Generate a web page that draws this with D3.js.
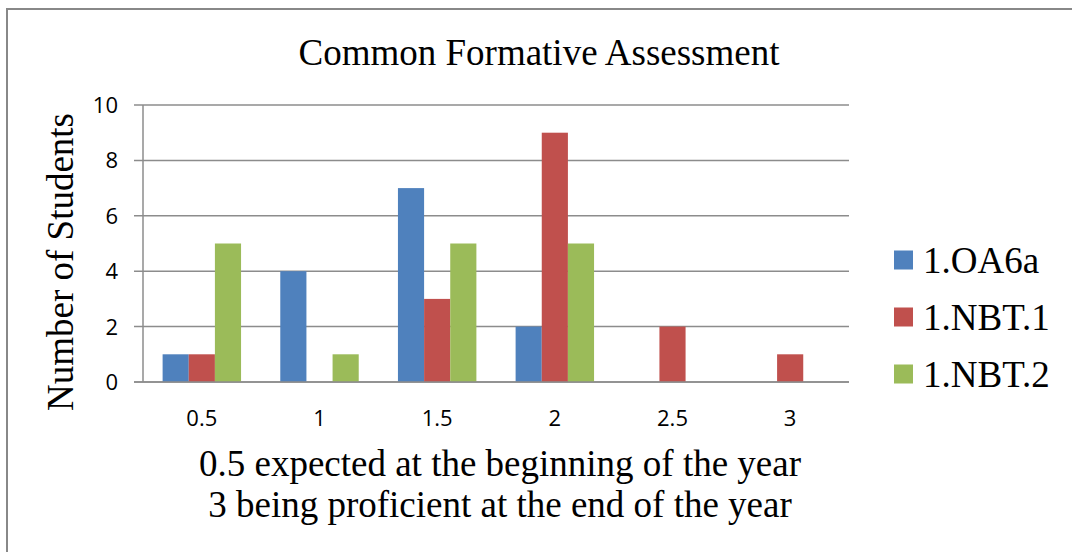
<!DOCTYPE html>
<html>
<head>
<meta charset="utf-8">
<script src="https://cdn.jsdelivr.net/npm/d3@7"></script>
<style>
  body { margin: 0; background: #fff; }
</style>
</head>
<body>
<svg id="chart" width="1072" height="552"></svg>
<script>
// data
var categories = ["0.5", "1", "1.5", "2", "2.5", "3"];
var seriesNames = ["1.OA6a", "1.NBT.1", "1.NBT.2"];
var oa6a = [1, 4, 7, 2, 0, 0];
var nbt1 = [1, 0, 3, 9, 2, 1];
var nbt2 = [5, 1, 5, 5, 0, 0];
var yTicks = [0, 2, 4, 6, 8, 10];
var colors = ["#4F81BD", "#C0504D", "#9BBB59"];

var seriesValues = [oa6a, nbt1, nbt2];

var svg = d3.select("#chart");
var serif = "'Liberation Serif', 'Times New Roman', serif";
var sans = "'Open Sans', 'Liberation Sans', sans-serif";

// outer frame (only top + left visible in picture)
svg.append("path")
  .attr("d", "M7,552 L7,9 L1072,9")
  .attr("fill", "none")
  .attr("stroke", "#888")
  .attr("stroke-width", 2);

var plot = { left: 143, right: 849, top: 105, bottom: 382 };

var x0 = d3.scaleBand()
  .domain(categories)
  .range([plot.left, plot.right]);

// gap width 150% -> bar = band / 4.5
var barW = x0.bandwidth() / 4.5;
var x1 = d3.scaleBand()
  .domain(seriesNames)
  .range([0, barW * 3]);

var y = d3.scaleLinear()
  .domain([0, 10])
  .range([plot.bottom, plot.top]);

// gridlines
svg.append("g")
  .selectAll("line")
  .data(yTicks)
  .join("line")
  .attr("x1", plot.left - 9)
  .attr("x2", plot.right)
  .attr("y1", d => y(d))
  .attr("y2", d => y(d))
  .attr("stroke", "#8c8c8c")
  .attr("stroke-width", 1.5);

// y axis line
svg.append("line")
  .attr("x1", plot.left).attr("x2", plot.left)
  .attr("y1", plot.top).attr("y2", plot.bottom)
  .attr("stroke", "#8c8c8c")
  .attr("stroke-width", 1.5);

// y tick labels
svg.append("g")
  .selectAll("text")
  .data(yTicks)
  .join("text")
  .attr("x", plot.left - 25)
  .attr("y", d => y(d))
  .attr("dy", "0.36em")
  .attr("text-anchor", "end")
  .attr("font-family", sans)
  .attr("font-size", 22)
  .text(d => d);

// bars
var groups = svg.append("g")
  .selectAll("g")
  .data(categories)
  .join("g")
  .attr("transform", d => "translate(" + (x0(d) + (x0.bandwidth() - barW * 3) / 2) + ",0)");

groups.selectAll("rect")
  .data((d, i) => seriesNames.map((s, k) => ({ s: s, k: k, v: seriesValues[k][i] })))
  .join("rect")
  .attr("x", d => x1(d.s))
  .attr("width", x1.bandwidth())
  .attr("y", d => y(d.v))
  .attr("height", d => y(0) - y(d.v))
  .attr("fill", d => colors[d.k]);

// redraw baseline on top of bars
svg.append("line")
  .attr("x1", plot.left - 9).attr("x2", plot.right)
  .attr("y1", plot.bottom).attr("y2", plot.bottom)
  .attr("stroke", "#8c8c8c")
  .attr("stroke-width", 1.5);

// x tick labels
svg.append("g")
  .selectAll("text")
  .data(categories)
  .join("text")
  .attr("x", d => x0(d) + x0.bandwidth() / 2)
  .attr("y", 418)
  .attr("dy", "0.36em")
  .attr("text-anchor", "middle")
  .attr("font-family", sans)
  .attr("font-size", 22)
  .text(d => d);

// title
svg.append("text")
  .attr("x", 539)
  .attr("y", 65)
  .attr("text-anchor", "middle")
  .attr("font-family", serif)
  .attr("font-size", 37)
  .text("Common Formative Assessment");

// y axis title
svg.append("text")
  .attr("transform", "translate(73,262) rotate(-90)")
  .attr("text-anchor", "middle")
  .attr("font-family", serif)
  .attr("font-size", 37)
  .text("Number of Students");

// x axis title (two lines)
var xTitle = ["0.5 expected at the beginning of the year", "3 being proficient at the end of the year"];
svg.append("g")
  .selectAll("text")
  .data(xTitle)
  .join("text")
  .attr("x", 500)
  .attr("y", (d, i) => 476 + i * 41)
  .attr("text-anchor", "middle")
  .attr("font-family", serif)
  .attr("font-size", 37)
  .text(d => d);

// legend
var legend = svg.append("g")
  .selectAll("g")
  .data(seriesNames)
  .join("g")
  .attr("transform", (d, i) => "translate(894," + (260 + i * 57) + ")");

legend.append("rect")
  .attr("x", 0)
  .attr("y", -9.5)
  .attr("width", 19)
  .attr("height", 19)
  .attr("fill", (d, i) => colors[i]);

legend.append("text")
  .attr("x", 29)
  .attr("y", 0)
  .attr("dy", "0.35em")
  .attr("font-family", serif)
  .attr("font-size", 37)
  .text(d => d);
</script>
</body>
</html>
